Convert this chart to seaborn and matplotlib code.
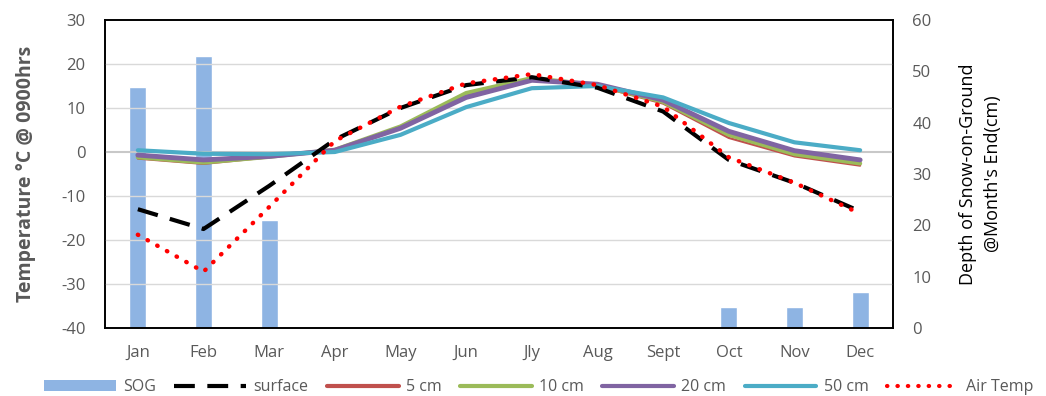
import numpy as np
import pandas as pd
import matplotlib
matplotlib.use("Agg")
import matplotlib.pyplot as plt
import seaborn as sns
from matplotlib.patches import Patch
from matplotlib.lines import Line2D

months = ["Jan", "Feb", "Mar", "Apr", "May", "Jun", "Jly", "Aug", "Sept", "Oct", "Nov", "Dec"]
sog = [47, 53, 21, 0, 0, 0, 0, 0, 0, 4, 4, 7]
surface = [-13, -17.5, -7.7, 2.8, 10, 15.2, 17, 14.6, 9.2, -1.8, -7, -13.5]
cm5 = [-1.5, -2.7, -1.2, 0.5, 5.8, 12.8, 16.6, 15.0, 11.0, 3.2, -1.0, -3.1]
cm10 = [-1.2, -2.4, -1.1, 0.5, 5.8, 13.4, 16.8, 15.2, 11.4, 3.9, -0.5, -2.6]
cm20 = [-0.7, -1.8, -1.0, 0.4, 5.4, 12.4, 16.3, 15.4, 11.8, 4.7, 0.3, -1.8]
cm50 = [0.4, -0.4, -0.5, 0.0, 3.9, 10.2, 14.5, 15.0, 12.4, 6.6, 2.2, 0.4]
air = [-18.8, -27.2, -12.5, 2.5, 10.3, 15.6, 17.7, 15.2, 10.3, -1.2, -7.0, -14.0]

sns.set_theme(style="white")
plt.rcParams['font.family'] = ['Open Sans', 'DejaVu Sans']
plt.rcParams['axes.unicode_minus'] = False

grey = "#595959"
fig = plt.figure(figsize=(10.46, 3.96), dpi=100)
ax_bar = fig.add_axes([0.1004, 0.1717, 0.7533, 0.7778])
ax = ax_bar.twinx()

x = np.arange(len(months))
df = pd.DataFrame({"month": months, "sog": sog})
sns.barplot(data=df, x="month", y="sog", ax=ax_bar, color="#8EB4E3",
            saturation=1, width=0.26)
ax_bar.set_ylim(0, 60)
ax_bar.set_yticks(np.arange(0, 61, 10))
ax_bar.yaxis.tick_right()
ax_bar.yaxis.set_label_position("right")
ax_bar.set_ylabel("Depth of Snow-on-Ground\n@Month's End(cm)", fontsize=13,
                  color="black", labelpad=20, linespacing=1.5)
ax_bar.set_xlabel("")
ax_bar.tick_params(axis="y", colors=grey, labelsize=12, length=0, pad=14,
                   labelleft=False, labelright=True)
ax_bar.tick_params(axis="x", colors=grey, labelsize=12, length=0, pad=12)
ax_bar.set_xlim(-0.5, 11.5)

# temperature axis on left
ax.yaxis.tick_left()
ax.yaxis.set_label_position("left")
ax.set_ylim(-40, 30)
ax.set_yticks(np.arange(-40, 31, 10))
for yv in np.arange(-30, 30, 10):
    ax.axhline(yv, color="#D9D9D9" if yv != 0 else "#C8C8C8",
               lw=1.0 if yv != 0 else 1.5, zorder=0)

sns.lineplot(x=x, y=surface, ax=ax, color="black", lw=3, zorder=3)
ax.lines[-1].set_dashes([5, 3])
sns.lineplot(x=x, y=cm5, ax=ax, color="#C0504D", lw=1.6, zorder=2)
sns.lineplot(x=x, y=cm10, ax=ax, color="#9BBB59", lw=3, zorder=2)
sns.lineplot(x=x, y=cm20, ax=ax, color="#8064A2", lw=3.5, zorder=2)
sns.lineplot(x=x, y=cm50, ax=ax, color="#4BACC6", lw=3, zorder=2)
sns.lineplot(x=x, y=air, ax=ax, color="#FF0000", lw=3.2, zorder=4)
ax.lines[-1].set_linestyle((0, (0.1, 2.4)))
ax.lines[-1].set_dash_capstyle("round")

ax.set_ylabel("Temperature °C @ 0900hrs", fontsize=14, fontweight="bold",
              color=grey, labelpad=18)
ax.tick_params(axis="y", colors=grey, labelsize=12, length=0, pad=14,
               labelleft=True, labelright=False)
ax.set_xlim(-0.5, 11.5)

for a in (ax, ax_bar):
    for s in a.spines.values():
        s.set_color("black")
        s.set_linewidth(1.2)

handles = [
    Patch(facecolor="#8EB4E3", edgecolor="none"),
    Line2D([], [], color="black", lw=3, dashes=[5, 3]),
    Line2D([], [], color="#C0504D", lw=3),
    Line2D([], [], color="#9BBB59", lw=3),
    Line2D([], [], color="#8064A2", lw=3),
    Line2D([], [], color="#4BACC6", lw=3),
    Line2D([], [], color="#FF0000", lw=3, linestyle=(0, (0.1, 2.4)),
           dash_capstyle="round"),
]
labels = ["SOG", "surface", "5 cm", "10 cm", "20 cm", "50 cm", "Air Temp"]
leg = fig.legend(handles, labels, loc="lower center", ncol=7, frameon=False,
                 bbox_to_anchor=(0.515, -0.035), fontsize=11.5, handlelength=4.5,
                 columnspacing=1.15, handletextpad=0.45)
for t in leg.get_texts():
    t.set_color(grey)

fig.savefig("out.png", dpi=100)
